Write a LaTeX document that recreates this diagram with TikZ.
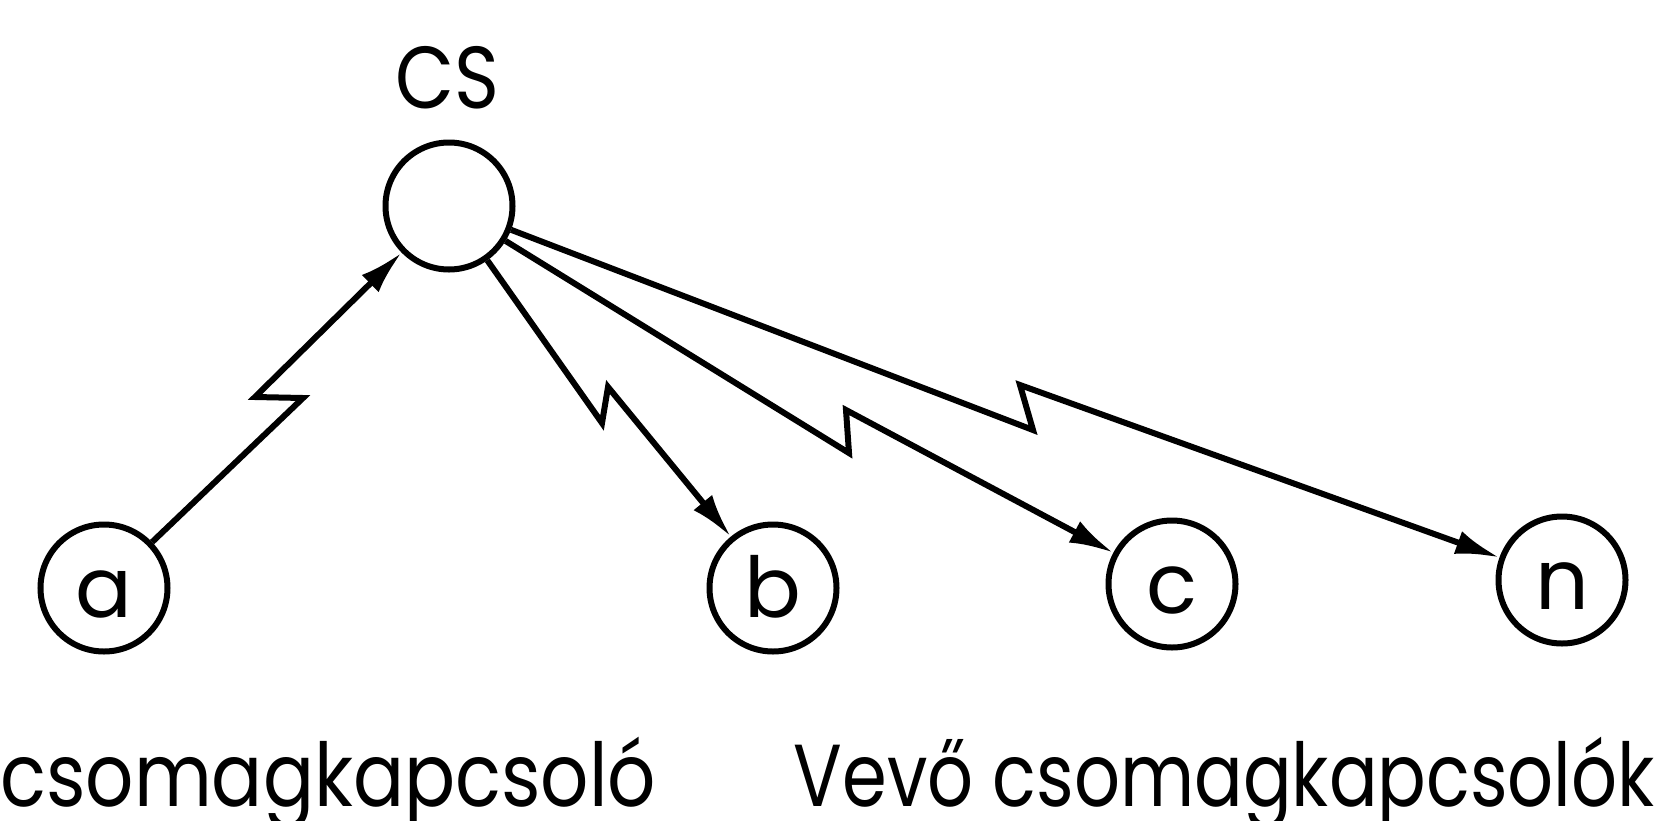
\documentclass[tikz,border=0pt]{standalone}
\usepackage{fontspec}
\setmainfont{Poppins}
\usetikzlibrary{arrows.meta}
\begin{document}
\begin{tikzpicture}[x=1pt,y=-1pt,
  station/.style={circle,draw,line width=6pt,minimum size=127pt,inner sep=0pt,
    text height=62pt,text depth=4pt,font=\fontsize{84}{90}\selectfont},
  link/.style={line width=6pt,-{Latex[length=44pt,width=24pt]}},
  caption/.style={inner sep=0pt,font=\fontsize{88}{96}\selectfont}]
\useasboundingbox (0,0) rectangle (1658,820);
% stations
\node[station] (cs) at (449,206) {};
\node[station] (a) at (104,588) {a};
\node[station] (b) at (773,588) {b};
\node[station] (c) at (1172,584) {c};
\node[station] (n) at (1562,580) {n};
% labels
\node[caption,anchor=base] (cslabel) at (447,108) {\resizebox{104pt}{\height}{CS}};
\node[caption,anchor=base west] (left) at (0,806) {\resizebox{656pt}{\height}{csomagkapcsoló}};
\node[caption,anchor=base east] (right) at (1655,806) {\resizebox{861pt}{\height}{Vevő csomagkapcsolók}};
% zigzag points
\coordinate (za1) at (303,398);
\coordinate (za2) at (255,397);
\coordinate (zb1) at (602,423);
\coordinate (zb2) at (608,387);
\coordinate (zc1) at (849,453);
\coordinate (zc2) at (846,410);
\coordinate (zn1) at (1033,430);
\coordinate (zn2) at (1020,385);
% connectors
\draw[link] (a) -- (za1) -- (za2) -- (cs);
\draw[link] (cs) -- (zb1) -- (zb2) -- (b);
\draw[link] (cs) -- (zc1) -- (zc2) -- (c);
\draw[link] (cs) -- (zn1) -- (zn2) -- (n);
\end{tikzpicture}
\end{document}
